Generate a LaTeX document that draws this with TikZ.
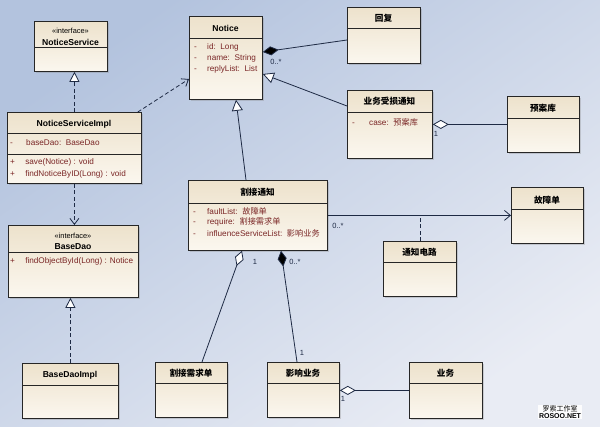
\documentclass[tikz,border=0pt]{standalone}
\usepackage{fontspec}
\setmainfont{Liberation Sans}
\newfontfamily\cjk{Noto Sans CJK SC}
\usetikzlibrary{arrows.meta,calc,shadows}
\definecolor{bgA}{HTML}{B3C3DE}
\definecolor{bgB}{HTML}{E9ECF4}
\definecolor{clsTop}{HTML}{EDE2CC}
\definecolor{clsBot}{HTML}{FBF7EF}
\definecolor{attrc}{HTML}{7A2626}
\definecolor{linec}{HTML}{1E2A44}
\begin{document}
\begin{tikzpicture}[x=1pt,y=-1pt,
  cls/.style={draw=black!85, line width=0.8pt, top color=clsTop, bottom color=clsBot,
     drop shadow={shadow xshift=1.5pt, shadow yshift=-1.5pt, opacity=0.3},
     anchor=north west, inner sep=0pt},
  sepline/.style={draw=black!85, line width=0.7pt},
  ttl/.style={font=\fontsize{8.6}{10}\selectfont\bfseries, inner sep=0pt},
  ster/.style={font=\fontsize{7.4}{8}\selectfont, inner sep=0pt},
  attr/.style={font=\fontsize{8.2}{9}\selectfont, text=attrc, inner sep=0pt, anchor=west},
  mult/.style={font=\fontsize{7.5}{8}\selectfont, text=linec, inner sep=0pt},
  conn/.style={draw=linec, line width=0.8pt},
  dep/.style={conn, dashed, dash pattern=on 4pt off 2.5pt, -{Straight Barb[length=6pt,width=9pt]}},
  realize/.style={conn, dashed, dash pattern=on 4pt off 2.5pt, -{Triangle[open,length=10pt,width=10pt,fill=white]}},
  gen/.style={conn, -{Triangle[open,length=11pt,width=11pt,fill=white]}},
  assoc/.style={conn, -{Straight Barb[length=6pt,width=10pt]}},
  compo/.style={conn, {Diamond[length=16pt,width=9pt,fill=black]}-},
  aggr/.style={conn, {Diamond[open,length=16pt,width=9pt,fill=white]}-}
]
\useasboundingbox (0,0) rectangle (600,426);
\shade[top color=bgA, bottom color=bgB, shading angle=35] (0,0) rectangle (600,426);

% NoticeService
\node[cls, minimum width=73pt, minimum height=50pt] (ns) at (34,21) {};
\node[ster] (nsS) at (70.5,31) {«interface»};
\node[ttl] (nsT) at (70.5,42) {NoticeService};
\draw[sepline] ($(ns.north west)+(0,26)$) -- ($(ns.north east)+(0,26)$);

% Notice
\node[cls, minimum width=73pt, minimum height=83pt] (notice) at (189,16) {};
\node[ttl] (noticeT) at (225.5,28) {Notice};
\draw[sepline] ($(notice.north west)+(0,22)$) -- ($(notice.north east)+(0,22)$);
\node[attr] (na1) at (194,47) {-\hspace{8pt} id:\ \ Long};
\node[attr] (na2) at (194,58) {-\hspace{8pt} name:\ \ String};
\node[attr] (na3) at (194,69) {-\hspace{8pt} replyList:\ \ List};

% 回复
\node[cls, minimum width=73pt, minimum height=56pt] (huifu) at (347,7) {};
\node[ttl] (huifuT) at (383.5,18) {\cjk 回复};
\draw[sepline] ($(huifu.north west)+(0,21)$) -- ($(huifu.north east)+(0,21)$);

% 业务受损通知
\node[cls, minimum width=85pt, minimum height=68pt] (ywss) at (347,90) {};
\node[ttl] (ywssT) at (389.5,101) {\cjk 业务受损通知};
\draw[sepline] ($(ywss.north west)+(0,22)$) -- ($(ywss.north east)+(0,22)$);
\node[attr] (ywa1) at (352,122) {-\hspace{12pt} case:\ \ {\cjk 预案库}};

% 预案库
\node[cls, minimum width=72pt, minimum height=56pt] (yaku) at (507,96) {};
\node[ttl] (yakuT) at (543,108) {\cjk 预案库};
\draw[sepline] ($(yaku.north west)+(0,22)$) -- ($(yaku.north east)+(0,22)$);

% NoticeServiceImpl
\node[cls, minimum width=134pt, minimum height=71pt] (nsi) at (7,112) {};
\node[ttl] (nsiT) at (74,124) {NoticeServiceImpl};
\draw[sepline] ($(nsi.north west)+(0,21)$) -- ($(nsi.north east)+(0,21)$);
\draw[sepline] ($(nsi.north west)+(0,42)$) -- ($(nsi.north east)+(0,42)$);
\node[attr] (nsia1) at (10,143) {-\hspace{11pt} baseDao:\ \ BaseDao};
\node[attr] (nsio1) at (10,162) {+\hspace{8pt} save(Notice) : void};
\node[attr] (nsio2) at (10,174) {+\hspace{8pt} findNoticeByID(Long) : void};

% BaseDao
\node[cls, minimum width=130pt, minimum height=72pt] (basedao) at (8,225) {};
\node[ster] (bdS) at (73,236) {«interface»};
\node[ttl] (bdT) at (73,247) {BaseDao};
\draw[sepline] ($(basedao.north west)+(0,27)$) -- ($(basedao.north east)+(0,27)$);
\node[attr] (bdo1) at (10,261) {+\hspace{8pt} findObjectById(Long) : Notice};

% BaseDaoImpl
\node[cls, minimum width=96pt, minimum height=55pt] (bdi) at (22,363) {};
\node[ttl] (bdiT) at (70,375) {BaseDaoImpl};
\draw[sepline] ($(bdi.north west)+(0,22)$) -- ($(bdi.north east)+(0,22)$);

% 割接通知
\node[cls, minimum width=139pt, minimum height=70pt] (gjtz) at (188,180) {};
\node[ttl] (gjtzT) at (257.5,192) {\cjk 割接通知};
\draw[sepline] ($(gjtz.north west)+(0,23)$) -- ($(gjtz.north east)+(0,23)$);
\node[attr] (ga1) at (193,211) {-\hspace{9pt} faultList:\ \ {\cjk 故障单}};
\node[attr] (ga2) at (193,222) {-\hspace{9pt} require:\ \ {\cjk 割接需求单}};
\node[attr] (ga3) at (193,233) {-\hspace{9pt} influenceServiceList:\ \ {\cjk 影响业务}};

% 故障单
\node[cls, minimum width=72pt, minimum height=56pt] (gzd) at (511,187) {};
\node[ttl] (gzdT) at (547,200) {\cjk 故障单};
\draw[sepline] ($(gzd.north west)+(0,22)$) -- ($(gzd.north east)+(0,22)$);

% 通知电路
\node[cls, minimum width=73pt, minimum height=55pt] (tzdl) at (383,241) {};
\node[ttl] (tzdlT) at (419.5,252) {\cjk 通知电路};
\draw[sepline] ($(tzdl.north west)+(0,21)$) -- ($(tzdl.north east)+(0,21)$);

% 割接需求单
\node[cls, minimum width=72pt, minimum height=55pt] (gjxq) at (155,362) {};
\node[ttl] (gjxqT) at (191,373) {\cjk 割接需求单};
\draw[sepline] ($(gjxq.north west)+(0,21)$) -- ($(gjxq.north east)+(0,21)$);

% 影响业务
\node[cls, minimum width=72pt, minimum height=55pt] (yxyw) at (267,362) {};
\node[ttl] (yxywT) at (303,373) {\cjk 影响业务};
\draw[sepline] ($(yxyw.north west)+(0,21)$) -- ($(yxyw.north east)+(0,21)$);

% 业务
\node[cls, minimum width=73pt, minimum height=56pt] (yw) at (409,362) {};
\node[ttl] (ywT) at (445.5,373) {\cjk 业务};
\draw[sepline] ($(yw.north west)+(0,21)$) -- ($(yw.north east)+(0,21)$);

% connectors
\draw[realize] (nsi.north) -- (nsi.north |- ns.south);
\draw[dep] ($(nsi.north east)+(-4,0)$) -- ($(notice.north west)+(0,63)$);
\draw[dep] (nsi.south) -- (nsi.south |- basedao.north);
\draw[realize] (bdi.north) -- (bdi.north |- basedao.south);
\draw[compo] ($(notice.north east)+(0,36)$) -- ($(huifu.north west)+(0,33)$);
\node[mult] (m1) at (276,62) {0..*};
\draw[gen] ($(ywss.north west)+(0,16)$) -- ($(notice.north east)+(0,58)$);
\draw[gen] ($(gjtz.north west)+(58,0)$) -- ($(notice.south west)+(47,0)$);
\draw[aggr] (ywss.east |- yaku.west) -- (yaku.west);
\node[mult] (m2) at (436,134) {1};
\draw[assoc] (gjtz.east |- gzd.west) -- (gzd.west);
\node[mult] (m3) at (338,226) {0..*};
\draw[conn, dashed, dash pattern=on 4pt off 2.5pt] (tzdl.north) -- (tzdl.north |- gzd.west);
\draw[aggr] ($(gjtz.south west)+(54,0)$) -- ($(gjxq.north west)+(47,0)$);
\node[mult] (m4) at (255,262) {1};
\draw[compo] ($(gjtz.south west)+(93,0)$) -- ($(yxyw.north west)+(30,0)$);
\node[mult] (m5) at (295,262) {0..*};
\node[mult] (m6) at (302,353) {1};
\draw[aggr] (yxyw.east |- yw.west) -- (yw.west);
\node[mult] (m7) at (343,399) {1};

% watermark
\node[inner sep=1pt, fill=white!85!bgB, font=\fontsize{7}{7.5}\selectfont, align=center] (wm) at (560,412) {{\cjk 罗索工作室}\\[-1pt]\textbf{ROSOO.NET}};
\end{tikzpicture}
\end{document}
